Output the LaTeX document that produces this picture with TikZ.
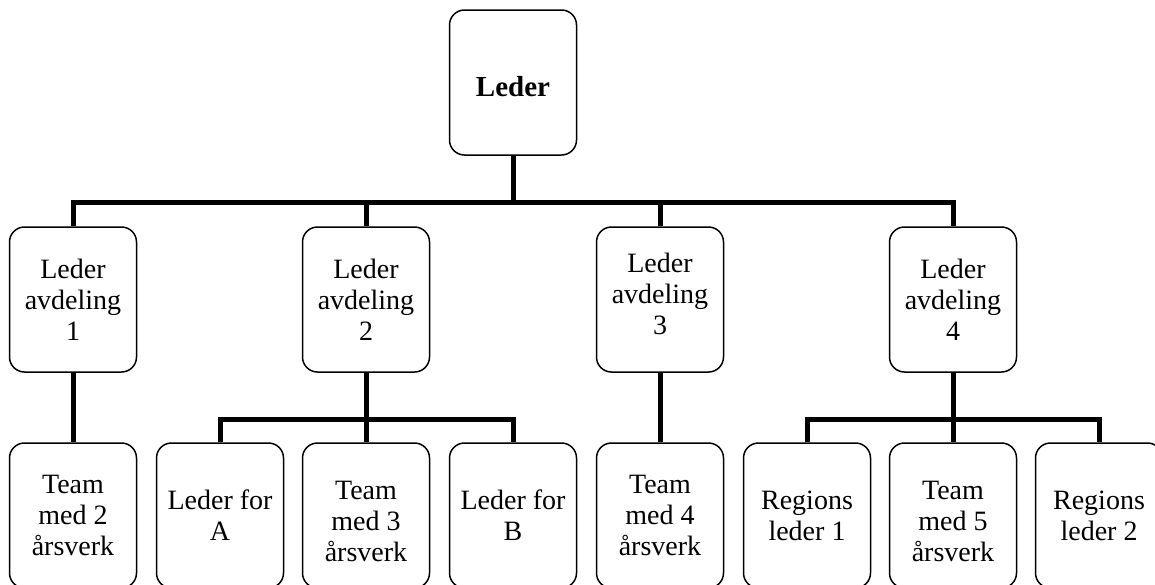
\documentclass[tikz,border=0pt]{standalone}
\usepackage{fontspec}
\setmainfont{Liberation Serif}
\newcommand{\topstrut}[1]{\rule{0pt}{#1}}
\newcommand{\botstrut}[1]{\rule[-#1]{0pt}{#1}}
\begin{document}
\begin{tikzpicture}[x=1pt,y=-1pt,
  box/.style={draw=black, line width=1.5pt, rounded corners=15pt, fill=white,
    minimum width=127pt, minimum height=145pt, inner sep=0pt, align=center,
    font=\fontsize{28}{31}\selectfont},
  conn/.style={draw=black, line width=5pt, line join=miter, line cap=butt}]
\clip (0,0) rectangle (1155,584);
% top
\node[box, font=\fontsize{29}{31}\selectfont\bfseries] (lead) at (513,82.5) {\topstrut{29pt}Leder};
% level 2
\node[box] (d1) at (73,299.5) {Leder\\avdeling\\1};
\node[box] (d2) at (366,299.5) {Leder\\avdeling\\2};
\node[box] (d3) at (660,299.5) {Leder\\avdeling\\3\botstrut{12pt}};
\node[box] (d4) at (953,299.5) {Leder\\avdeling\\4};
% level 3
\node[box] (t2) at (73,515.5) {Team\\med 2\\årsverk};
\node[box] (la) at (220,515.5) {Leder for\\A};
\node[box] (t3) at (366,515.5) {\topstrut{30.5pt}Team\\med 3\\årsverk};
\node[box] (lb) at (513,515.5) {Leder for\\B};
\node[box] (t4) at (660,515.5) {Team\\med 4\\årsverk};
\node[box] (r1) at (807,515.5) {Regions\\leder 1};
\node[box] (t5) at (953,515.5) {\topstrut{30.5pt}Team\\med 5\\årsverk};
\node[box] (r2) at (1099,515.5) {Regions\\leder 2};
\coordinate (b1) at (513,202);
\coordinate (b2) at (366,419);
\coordinate (b4) at (953,419);
% connectors
\draw[conn] (lead.south) -- (b1);
\draw[conn] (d1.north) |- (d4.north |- b1) -- (d4.north);
\draw[conn] (d2.north) -- (d2.north |- b1);
\draw[conn] (d3.north) -- (d3.north |- b1);
\draw[conn] (d1.south) -- (t2.north);
\draw[conn] (d2.south) -- (b2);
\draw[conn] (la.north) |- (lb.north |- b2) -- (lb.north);
\draw[conn] (b2) -- (t3.north);
\draw[conn] (d3.south) -- (t4.north);
\draw[conn] (d4.south) -- (b4);
\draw[conn] (r1.north) |- (r2.north |- b4) -- (r2.north);
\draw[conn] (b4) -- (t5.north);
\end{tikzpicture}
\end{document}
